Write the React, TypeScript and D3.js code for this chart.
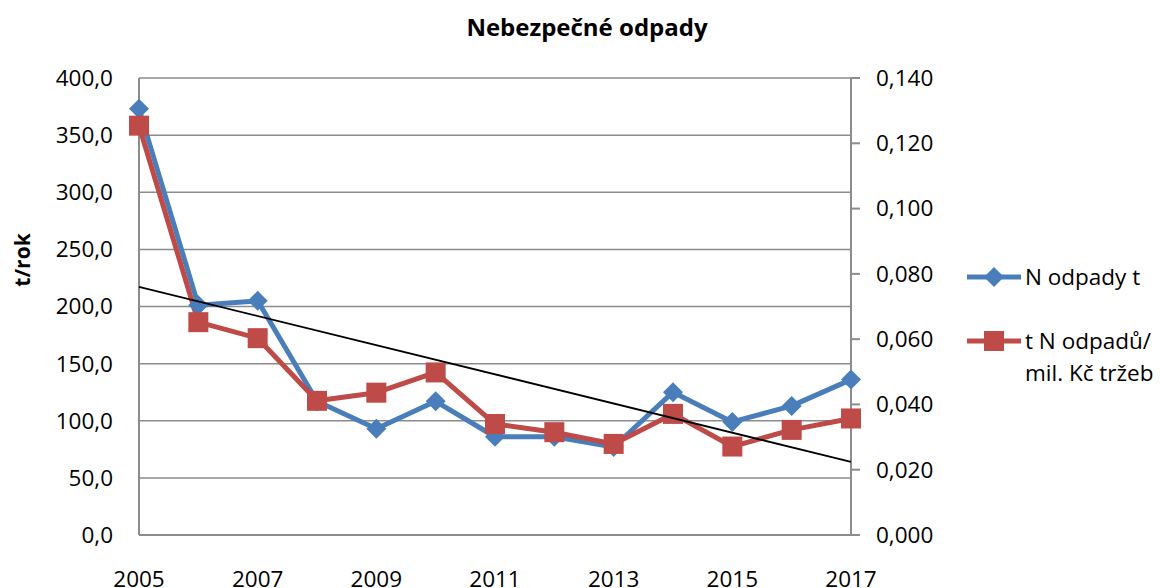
import React, { useEffect, useRef } from 'react';
import * as d3 from 'd3';

const years = [2005, 2006, 2007, 2008, 2009, 2010, 2011, 2012, 2013, 2014, 2015, 2016, 2017];
const xTickLabels = ['2005', '2007', '2009', '2011', '2013', '2015', '2017'];
// N odpady t (left axis)
const wasteTons = [373, 201, 205, 117, 93, 117, 86, 86, 77, 125, 99, 113, 136];
// t N odpadů / mil. Kč tržeb (right axis)
const wastePerRevenue = [0.1254, 0.0652, 0.0603, 0.0411, 0.0436, 0.0498, 0.034, 0.0315, 0.0279, 0.0371, 0.0271, 0.0322, 0.0357];
const leftTicks = [0, 50, 100, 150, 200, 250, 300, 350, 400];
const rightTicks = [0, 0.02, 0.04, 0.06, 0.08, 0.1, 0.12, 0.14];

const FONT = '"Open Sans", Calibri, sans-serif';
const BLUE = '#4A7EBB';
const RED = '#BE4B48';
const GRID = '#8c8c8c';

const App: React.FC = () => {
  const svgRef = useRef<SVGSVGElement>(null);

  useEffect(() => {
    if (!svgRef.current) return;
    const svg = d3.select(svgRef.current);
    svg.selectAll('*').remove();

    const left = 139, right = 851, top = 78, bottom = 535;

    const x = d3.scaleLinear().domain([2005, 2017]).range([left, right]);
    const yL = d3.scaleLinear().domain([0, 400]).range([bottom, top]);
    const yR = d3.scaleLinear().domain([0, 0.14]).range([bottom, top]);
    const fmt1 = (v: number) => d3.format('.1f')(v).replace('.', ',');
    const fmt3 = (v: number) => d3.format('.3f')(v).replace('.', ',');

    // title
    svg.append('text')
      .attr('x', 587).attr('y', 36)
      .attr('text-anchor', 'middle')
      .style('font-family', FONT).style('font-weight', 'bold').style('font-size', '24px')
      .text('Nebezpečné odpady');

    // gridlines
    svg.append('g').selectAll('line')
      .data(leftTicks.filter(d => d > 0))
      .enter().append('line')
      .attr('x1', left).attr('x2', right)
      .attr('y1', d => yL(d)).attr('y2', d => yL(d))
      .attr('stroke', GRID).attr('stroke-width', 1.5);

    // axes lines
    const axes = svg.append('g').attr('stroke', GRID).attr('stroke-width', 2).attr('fill', 'none');
    axes.append('line').attr('x1', left).attr('x2', left).attr('y1', top).attr('y2', bottom);
    axes.append('line').attr('x1', left).attr('x2', right + 1).attr('y1', bottom).attr('y2', bottom);
    axes.append('line').attr('x1', right).attr('x2', right).attr('y1', top).attr('y2', bottom);
    axes.selectAll('.rtick')
      .data(rightTicks)
      .enter().append('line')
      .attr('class', 'rtick')
      .attr('x1', right).attr('x2', right + 9)
      .attr('y1', d => yR(d)).attr('y2', d => yR(d));

    // left tick labels
    svg.append('g').selectAll('text')
      .data(leftTicks)
      .enter().append('text')
      .attr('x', 113).attr('y', d => yL(d))
      .attr('dy', '0.35em')
      .attr('text-anchor', 'end')
      .style('font-family', FONT).style('font-size', '22.5px')
      .text(d => fmt1(d));

    // right tick labels
    svg.append('g').selectAll('text')
      .data(rightTicks)
      .enter().append('text')
      .attr('x', 876).attr('y', d => yR(d))
      .attr('dy', '0.35em')
      .style('font-family', FONT).style('font-size', '22.5px')
      .text(d => fmt3(d));

    // x labels
    svg.append('g').selectAll('text')
      .data(xTickLabels)
      .enter().append('text')
      .attr('x', d => x(+d)).attr('y', 587)
      .attr('text-anchor', 'middle')
      .style('font-family', FONT).style('font-size', '22.5px')
      .text(d => d);

    // y axis title
    svg.append('text')
      .attr('transform', 'translate(30,260) rotate(-90)')
      .attr('text-anchor', 'middle')
      .style('font-family', FONT).style('font-weight', 'bold').style('font-size', '21px')
      .text('t/rok');

    const idx = d3.range(years.length);

    // series lines
    const blueLine = d3.line<number>().x(i => x(years[i])).y(i => yL(wasteTons[i]));
    const redLine = d3.line<number>().x(i => x(years[i])).y(i => yR(wastePerRevenue[i]));

    svg.append('path').datum(idx)
      .attr('d', blueLine).attr('fill', 'none')
      .attr('stroke', BLUE).attr('stroke-width', 5).attr('stroke-linejoin', 'round');

    svg.append('path').datum(idx)
      .attr('d', redLine).attr('fill', 'none')
      .attr('stroke', RED).attr('stroke-width', 5).attr('stroke-linejoin', 'round');

    const diamond = (cx: number, cy: number, r: number) =>
      `M${cx},${cy - r}L${cx + r},${cy}L${cx},${cy + r}L${cx - r},${cy}Z`;

    svg.append('g').selectAll('path')
      .data(idx)
      .enter().append('path')
      .attr('d', i => diamond(x(years[i]), yL(wasteTons[i]), 10))
      .attr('fill', BLUE);

    svg.append('g').selectAll('rect')
      .data(idx)
      .enter().append('rect')
      .attr('x', i => x(years[i]) - 10).attr('y', i => yR(wastePerRevenue[i]) - 10)
      .attr('width', 20).attr('height', 20)
      .attr('fill', RED);

    // linear trend of N odpady t
    const mx = d3.mean(years) as number;
    const my = d3.mean(wasteTons) as number;
    const slope = d3.sum(idx, i => (years[i] - mx) * (wasteTons[i] - my)) /
      d3.sum(years, yr => (yr - mx) ** 2);
    const trend = (yr: number) => my + slope * (yr - mx);
    svg.append('line')
      .attr('x1', x(2005)).attr('y1', yL(trend(2005)))
      .attr('x2', x(2017)).attr('y2', yL(trend(2017)))
      .attr('stroke', '#000').attr('stroke-width', 1.8);

    // legend
    const lg = svg.append('g');
    lg.append('line').attr('x1', 967).attr('x2', 1021).attr('y1', 277).attr('y2', 277)
      .attr('stroke', BLUE).attr('stroke-width', 5);
    lg.append('path').attr('d', diamond(994, 277, 10)).attr('fill', BLUE);
    lg.append('text').attr('x', 1025).attr('y', 277).attr('dy', '0.35em')
      .style('font-family', FONT).style('font-size', '22.5px').text('N odpady t');

    lg.append('line').attr('x1', 967).attr('x2', 1021).attr('y1', 341).attr('y2', 341)
      .attr('stroke', RED).attr('stroke-width', 5);
    lg.append('rect').attr('x', 984).attr('y', 331).attr('width', 20).attr('height', 20).attr('fill', RED);
    lg.append('text').attr('x', 1025).attr('y', 341).attr('dy', '0.35em')
      .style('font-family', FONT).style('font-size', '22.5px').text('t N odpadů/');
    lg.append('text').attr('x', 1025).attr('y', 373).attr('dy', '0.35em')
      .style('font-family', FONT).style('font-size', '22.5px').text('mil. Kč tržeb');
  }, []);

  return (
    <div style={{ position: 'absolute', left: 0, top: 0, width: 1160, height: 588, background: '#fff' }}>
      <svg ref={svgRef} width={1160} height={588} style={{ display: 'block' }}></svg>
    </div>
  );
};

export default App;
